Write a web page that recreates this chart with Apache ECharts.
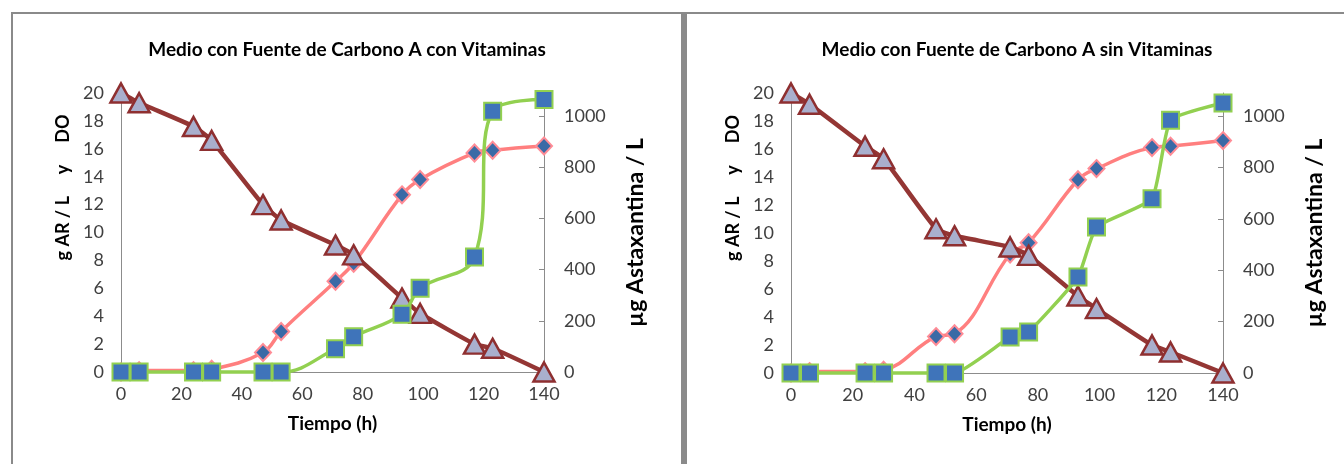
<!DOCTYPE html>
<html>
<head>
<meta charset="utf-8">
<script src="https://cdn.jsdelivr.net/npm/echarts@6/dist/echarts.min.js"></script>
<style>
  body { margin: 0; background: #fff; width: 1344px; height: 464px; overflow: hidden; position: relative; }
  .panel1 {
    position: absolute; left: 11px; top: 12px;
    width: 668px; height: 460px;
    border-top: 2px solid #8a8a8a; border-left: 2px solid #8a8a8a; border-right: 3px solid #8a8a8a;
  }
  .panel2 {
    position: absolute; left: 684px; top: 12px;
    width: 660px; height: 460px;
    border-top: 2px solid #8a8a8a; border-left: 3px solid #8a8a8a;
  }
  .chart { width: 100%; height: 100%; }
</style>
</head>
<body>
<div class="panel1"><div id="chart1" class="chart"></div></div>
<div class="panel2"><div id="chart2" class="chart"></div></div>
<script>
  // tiempo (h)
  const tiempo = [0, 6, 24, 30, 47, 53, 71, 77, 93, 99, 117, 123, 140]

  // con vitaminas
  const arCon   = [20, 19.3, 17.6, 16.6, 12.0, 10.9, 9.1, 8.4, 5.3, 4.2, 2.0, 1.7, 0]
  const doCon   = [0, 0.1, 0.1, 0.2, 1.4, 2.9, 6.5, 7.8, 12.7, 13.8, 15.7, 15.9, 16.2]
  const astaCon = [0, 0, 0, 0, 0, 0, 91, 138, 226, 327, 449, 1019, 1065]

  // sin vitaminas
  const arSin   = [20, 19.2, 16.2, 15.3, 10.3, 9.8, 9.0, 8.4, 5.5, 4.6, 2.0, 1.5, 0]
  const doSin   = [0, 0.1, 0.1, 0.2, 2.6, 2.8, 8.5, 9.3, 13.8, 14.6, 16.1, 16.2, 16.6]
  const astaSin = [0, 0, 0, 0, 0, 0, 140, 160, 374, 568, 678, 984, 1051]

  const font = 'Lato'
  const pairs = (ys) => tiempo.map((t, i) => [t, ys[i]])
  const plain = (v) => String(v)

  function makeOption(title, ar, dOD, asta, grid, smoothAsta){
    return {
      animation:false,
      textStyle:{ fontFamily:font },
      title:{
        text:title,
        left:'center',
        top:21,
        textStyle:{ fontFamily:font, fontSize:19, fontWeight:'bold', color:'#000' }
      },
      grid:grid,
      xAxis:{
        type:'value',
        min:0, max:140, interval:20,
        name:'Tiempo (h)',
        nameLocation:'middle',
        nameGap:42,
        nameTextStyle:{ fontFamily:font, fontSize:19, fontWeight:'bold', color:'#000' },
        axisLine:{ show:true, lineStyle:{ color:'#8c8c8c', width:1 } },
        axisTick:{ show:false },
        splitLine:{ show:false },
        axisLabel:{ fontFamily:font, fontSize:18, color:'#404040', margin:13, formatter:plain }
      },
      yAxis:[
        {
          type:'value',
          min:0, max:20, interval:2,
          name:'g AR / L     y     DO',
          nameLocation:'middle',
          nameGap:47,
          nameTextStyle:{ fontFamily:font, fontSize:18, fontWeight:'bold', color:'#000', padding:[0,0,0,90] },
          axisLine:{ show:true, lineStyle:{ color:'#8c8c8c', width:1 } },
          axisTick:{ show:false },
          splitLine:{ show:false },
          axisLabel:{ fontFamily:font, fontSize:18, color:'#404040', margin:17, formatter:plain }
        },
        {
          type:'value',
          position:'right',
          min:0, max:1090, interval:200,
          name:'µg Astaxantina / L',
          nameLocation:'middle',
          nameGap:80,
          nameRotate:90,
          nameTextStyle:{ fontFamily:font, fontSize:23, fontWeight:'bold', color:'#000' },
          axisLine:{ show:true, lineStyle:{ color:'#8c8c8c', width:1 } },
          axisTick:{ show:true, inside:true, length:5, lineStyle:{ color:'#8c8c8c' } },
          splitLine:{ show:false },
          axisLabel:{ fontFamily:font, fontSize:18, color:'#404040', margin:20, showMaxLabel:false, formatter:plain }
        }
      ],
      series:[
        {
          name:'DO',
          type:'line',
          yAxisIndex:0,
          data:pairs(dOD),
          smooth:0.4,
          clip:false,
          symbol:'diamond',
          symbolSize:[16,17],
          lineStyle:{ color:'#ff7f7f', width:3.5 },
          itemStyle:{ color:'#3a6aa6', borderColor:'#ff8c96', borderWidth:2 },
          z:2
        },
        {
          name:'AR',
          type:'line',
          yAxisIndex:0,
          data:pairs(ar),
          smooth:0.15,
          clip:false,
          symbol:'triangle',
          symbolSize:[21,19],
          lineStyle:{ color:'#943634', width:4.5 },
          itemStyle:{ color:'#a9afcd', borderColor:'#8e2f30', borderWidth:2.5 },
          z:3
        },
        {
          name:'Astaxantina',
          type:'line',
          yAxisIndex:1,
          data:pairs(asta),
          smooth:smoothAsta,
          clip:false,
          symbol:'rect',
          symbolSize:17,
          lineStyle:{ color:'#92d050', width:3.5 },
          itemStyle:{ color:'#3f74ba', borderColor:'#92d050', borderWidth:2 },
          z:4
        }
      ]
    }
  }

  const mychart1 = echarts.init(document.getElementById('chart1'))
  const mychart2 = echarts.init(document.getElementById('chart2'))

  mychart1.setOption(makeOption(
    'Medio con Fuente de Carbono A con Vitaminas',
    arCon, doCon, astaCon,
    { left:108, top:79, right:137, bottom:102 },
    0.4
  ))
  mychart2.setOption(makeOption(
    'Medio con Fuente de Carbono A sin Vitaminas',
    arSin, doSin, astaSin,
    { left:104, top:79, right:124, bottom:101 },
    0.15
  ))
</script>
</body>
</html>
